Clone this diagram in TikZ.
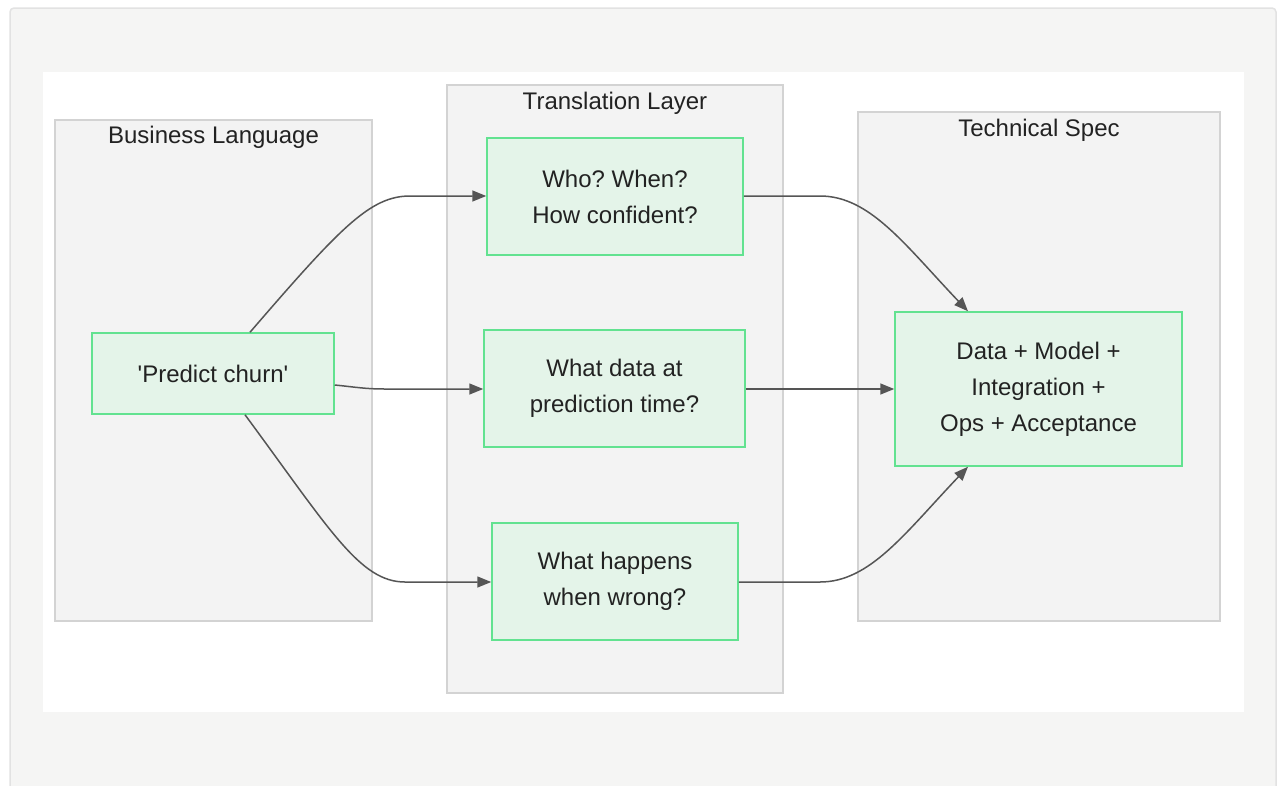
\documentclass[tikz,border=0pt]{standalone}
\usepackage{fontspec}
\setmainfont{Liberation Sans}
\usetikzlibrary{arrows.meta}
\frenchspacing
\definecolor{outerbg}{HTML}{F5F5F4}
\definecolor{outerln}{HTML}{E2E2E2}
\definecolor{clfill}{HTML}{F3F3F3}
\definecolor{clline}{HTML}{D3D3D3}
\definecolor{ndfill}{HTML}{E4F4E9}
\definecolor{ndline}{HTML}{62E290}
\definecolor{txt}{HTML}{222222}
\definecolor{edge}{HTML}{555555}
\tikzset{
  cluster/.style={draw=clline, fill=clfill, line width=1.5pt, inner sep=0pt},
  cltitle/.style={text=txt, font=\fontsize{24}{28}\selectfont, inner sep=0pt},
  stepbox/.style={draw=ndline, fill=ndfill, line width=1.5pt, text=txt,
    font=\fontsize{24}{36}\selectfont, align=center, inner sep=0pt},
  link/.style={draw=edge, line width=1.5pt, -{Triangle[length=14pt,width=11pt]}}
}
\begin{document}
\begin{tikzpicture}[x=1pt,y=-1pt]
\useasboundingbox (0,0) rectangle (1277,785);
\fill[white] (0,0) rectangle (1277,785);
\draw[outerln, fill=outerbg, line width=1.5pt, rounded corners=4pt] (10,790) -- (10,8) -- (1276,8) -- (1276,790);
\fill[white] (43,72) rectangle (1244,712);
% clusters
\node[cluster, minimum width=317pt, minimum height=501pt] (biz) at (213.5,370.5) {};
\node[cltitle] (bizt) at (213.5,137) {Business Language};
\node[cluster, minimum width=336pt, minimum height=608pt] (tra) at (615,389) {};
\node[cltitle] (trat) at (615,103) {Translation Layer};
\node[cluster, minimum width=362pt, minimum height=509pt] (tec) at (1039,366.5) {};
\node[cltitle] (tect) at (1039,130) {Technical Spec};
% nodes
\node[stepbox, minimum width=242pt, minimum height=81pt] (pc) at (213,373.5) {\textquotesingle Predict churn\textquotesingle};
\node[stepbox, minimum width=256pt, minimum height=117pt] (who) at (615,196.5) {\raisebox{0pt}[0pt][0pt]{}Who? When?\\How confident?};
\node[stepbox, minimum width=261pt, minimum height=117pt] (dat) at (614.5,388.5) {What data at\\prediction time?};
\node[stepbox, minimum width=246pt, minimum height=117pt] (wro) at (615,581.5) {What happens\\when wrong?};
\node[stepbox, minimum width=287pt, minimum height=154pt] (spec) at (1038.5,389) {Data + Model +\\Integration +\\Ops + Acceptance};
% connectors
\draw[link] (pc.north -| 250,0) .. controls (340,228) and (370,196) .. (410,196) -- (who.west |- 0,196);
\draw[link] (pc.east |- 0,385) .. controls (355,387) and (365,389) .. (385,389) -- (dat.west |- 0,389);
\draw[link] (pc.south -| 245,0) .. controls (330,530) and (360,582) .. (405,582) -- (wro.west |- 0,582);
\draw[link] (who.east |- 0,196) -- (820,196) .. controls (870,196) and (905,245) .. (spec.north -| 968,0);
\draw[link] (dat.east |- 0,389) -- (spec.west |- 0,389);
\draw[link] (wro.east |- 0,582) -- (820,582) .. controls (870,582) and (905,533) .. (spec.south -| 968,0);
\end{tikzpicture}
\end{document}
